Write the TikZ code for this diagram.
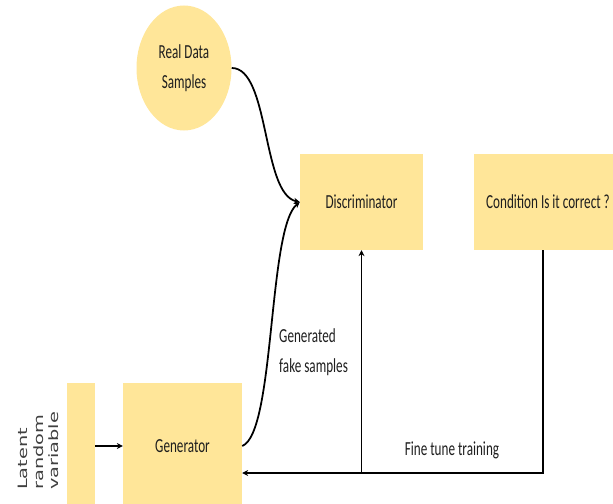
\documentclass[tikz,border=0pt]{standalone}
\usepackage{fontspec}
\setmainfont{Carlito}[FakeStretch=0.66]
\newfontfamily\latentfont{DejaVu Sans}[FakeStretch=1.5]
\usetikzlibrary{shapes.geometric, arrows.meta}
\definecolor{ganyellow}{RGB}{255,230,153}
\definecolor{gantext}{RGB}{30,30,30}
\begin{document}
\begin{tikzpicture}[x=0.3mm, y=0.3mm]
  \tikzstyle{block}=[fill=ganyellow, inner sep=0pt, text=gantext, font=\fontsize{17}{26}\selectfont]
  \tikzstyle{note}=[inner sep=0pt, text=gantext, font=\fontsize{17}{26}\selectfont]
  \tikzstyle{flow}=[line width=1.5pt, -{Stealth[length=5pt, width=5pt]}]

  \useasboundingbox (0, 0) rectangle (613, 503);

  \node[block, ellipse, minimum width=28.5mm, minimum height=37.5mm, align=center] (real) at (184, 435) {Real Data\\Samples};
  \node[block, minimum width=36.9mm, minimum height=28.8mm] (disc) at (361.5, 301) {Discriminator};
  \node[block, minimum width=44.4mm, minimum height=28.8mm] (cond) at (548, 301) {Condition Is it correct ?};
  \node[block, minimum width=35.7mm, minimum height=37.8mm] (gen) at (182.5, 57) {Generator};
  \node[block, minimum width=8.4mm, minimum height=37.8mm] (latent) at (81, 57) {};
  \node[rotate=90, anchor=south west, inner sep=0pt, align=left, text=gantext!85,
        font=\latentfont\fontsize{11}{13.2}\selectfont] (lattext) at (59, 13) {Latent\\random\\variable};

  \coordinate (turn) at (543, 30);

  \draw[flow] (latent) -- (gen);
  \draw[flow] (real.east) .. controls +(38, 0) and +(-38, 8) .. (disc.west);
  \draw[flow] (gen.east) .. controls +(33, 13) and +(-32, -26) .. (disc.west);
  \draw[flow] (cond.south -| turn) -- (turn) -- (turn -| gen.east);
  \draw[flow] (disc.south |- turn) -- (disc.south);

  \node[note, anchor=west, align=left] (fake) at (279, 151) {Generated\\fake samples};
  \node[note] (tune) at (452, 53) {Fine tune training};
\end{tikzpicture}
\end{document}
